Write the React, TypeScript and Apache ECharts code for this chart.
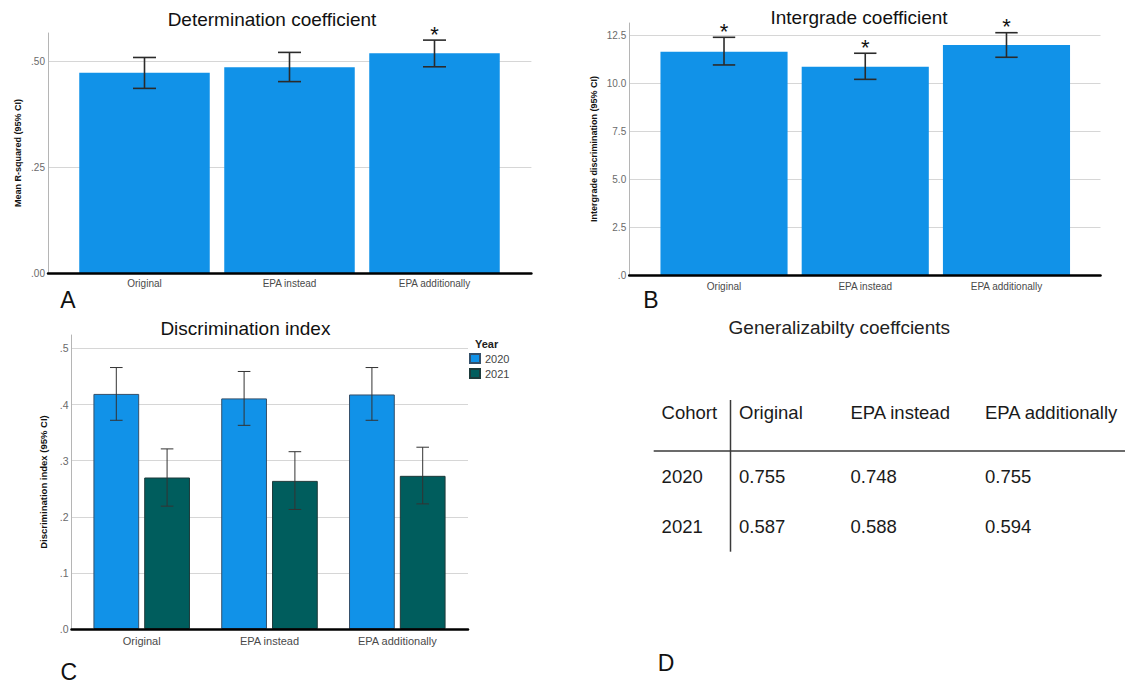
import React, { useEffect, useRef } from 'react';
import * as echarts from 'echarts';

// ---------- data ----------
const categories = ['Original', 'EPA instead', 'EPA additionally'];

const rSquaredMean = [0.473, 0.486, 0.519];
const rSquaredLow = [0.436, 0.452, 0.487];
const rSquaredHigh = [0.509, 0.521, 0.55];
const rSquaredSig = [false, false, true];

const intergradeMean = [11.63, 10.85, 11.98];
const intergradeLow = [10.94, 10.19, 11.34];
const intergradeHigh = [12.38, 11.55, 12.62];
const intergradeSig = [true, true, true];

const years = ['2020', '2021'];
const discMean2020 = [0.419, 0.411, 0.418];
const discLow2020 = [0.372, 0.363, 0.372];
const discHigh2020 = [0.466, 0.459, 0.466];
const discMean2021 = [0.27, 0.264, 0.273];
const discLow2021 = [0.219, 0.213, 0.223];
const discHigh2021 = [0.321, 0.316, 0.324];

const yTicksA = [0, 0.25, 0.5];
const yTicksB = [0, 2.5, 5, 7.5, 10, 12.5];
const yTicksC = [0, 0.1, 0.2, 0.3, 0.4, 0.5];

const tableColumns = ['Original', 'EPA instead', 'EPA additionally'];
const cohorts = ['2020', '2021'];
const gCoef2020 = [0.755, 0.748, 0.755];
const gCoef2021 = [0.587, 0.588, 0.594];

// ---------- helpers ----------
const FONT = "'Liberation Sans', Arial, Helvetica, sans-serif";

function tickFormatter(ticks: number[], digits: number) {
  return (v: number) => {
    const hit = ticks.some((t) => Math.abs(t - v) < 1e-6);
    if (!hit) return '';
    return v.toFixed(digits).replace(/^0\./, '.');
  };
}

function errRenderer(capHalf: number, lineWidth: number, color: string, offsetFrac: number, starSize: number, starGap: number) {
  return (params: any, api: any) => {
    const idx = api.value(0);
    const lo = api.value(1);
    const hi = api.value(2);
    const sig = api.value(3);
    const pLo = api.coord([idx, lo]);
    const pHi = api.coord([idx, hi]);
    const cw = api.size([1, 0])[0];
    const x = pLo[0] + offsetFrac * cw;
    const style = { stroke: color, lineWidth };
    const children: any[] = [
      { type: 'line', shape: { x1: x, y1: pHi[1], x2: x, y2: pLo[1] }, style },
      { type: 'line', shape: { x1: x - capHalf, y1: pHi[1], x2: x + capHalf, y2: pHi[1] }, style },
      { type: 'line', shape: { x1: x - capHalf, y1: pLo[1], x2: x + capHalf, y2: pLo[1] }, style },
    ];
    if (sig) {
      children.push({
        type: 'text',
        x,
        y: pHi[1] - starGap,
        style: {
          text: '*',
          fill: '#111',
          fontSize: starSize,
          fontFamily: FONT,
          align: 'center',
          verticalAlign: 'middle',
        },
      });
    }
    return { type: 'group', children };
  };
}

function frameAxes(gridIndex: number, max: number, ticks: number[], interval: number, digits: number, name: string, nameGap: number, nameSize: number, labelSize: number) {
  const yAxis = {
    type: 'value',
    gridIndex,
    min: 0,
    max,
    interval,
    axisLine: { show: true, lineStyle: { color: '#b5b5b5', width: 1 } },
    axisTick: { show: false },
    splitLine: { show: true, showMaxLine: false, lineStyle: { color: '#d6d6d6', width: 1 } },
    axisLabel: { showMaxLabel: false, formatter: tickFormatter(ticks, digits), fontSize: labelSize, color: '#6a6a6a', margin: 3, fontFamily: FONT },
    name,
    nameLocation: 'middle',
    nameGap,
    nameRotate: 90,
    nameTextStyle: { fontWeight: 'bold', fontSize: nameSize, color: '#111', fontFamily: FONT },
  };
  const xAxis = {
    type: 'value',
    gridIndex,
    min: 0,
    max: 1,
    z: 6,
    axisLine: { show: true, onZero: false, lineStyle: { color: '#000', width: 2.5 } },
    axisTick: { show: false },
    axisLabel: { show: false },
    splitLine: { show: false },
  };
  return { xAxis, yAxis };
}

function barAxes(gridIndex: number, max: number, labelSize: number, margin: number) {
  const xAxis = {
    type: 'category',
    gridIndex,
    data: categories,
    axisLine: { show: false },
    axisTick: { show: false },
    axisLabel: { interval: 0, fontSize: labelSize, color: '#4a4a4a', margin, fontFamily: FONT },
  };
  const yAxis = { type: 'value', gridIndex, min: 0, max, show: false };
  return { xAxis, yAxis };
}

function text(t: string, x: number, y: number, size: number, opts: any = {}) {
  return {
    type: 'text',
    x,
    y,
    style: {
      text: t,
      fill: opts.fill || '#111',
      fontSize: size,
      fontFamily: FONT,
      fontWeight: opts.weight || 'normal',
      align: opts.align || 'center',
      verticalAlign: 'middle',
    },
  };
}

export default function App() {
  const ref = useRef<HTMLDivElement>(null);

  useEffect(() => {
    if (!ref.current) return;
    const chart = echarts.init(ref.current, undefined, { renderer: 'svg' });

    const maxA = 0.5668;
    const maxB = 13.125;
    const maxC = 0.524;

    const fA = frameAxes(0, maxA, yTicksA, 0.25, 2, 'Mean R-squared (95% CI)', 26, 9, 10);
    const bA = barAxes(1, maxA, 10, 5);
    const fB = frameAxes(2, maxB, yTicksB, 2.5, 1, 'Intergrade discrimination (95% CI)', 31, 9, 10);
    const bB = barAxes(3, maxB, 10, 6);
    const fC = frameAxes(4, maxC, yTicksC, 0.1, 1, 'Discrimination index (95% CI)', 23.5, 9.5, 10.5);
    const bC = barAxes(5, maxC, 11, 6);

    const offC = (0.358 * 1.11) / 2;

    // table
    const colX = [739, 850.5, 985];
    const tableTexts: any[] = [text('Cohort', 661.6, 412, 18.5, { align: 'left', fill: '#1a1a1a' })];
    tableColumns.forEach((c, i) => tableTexts.push(text(c, colX[i], 412, 18.5, { align: 'left', fill: '#1a1a1a' })));
    const rows = [gCoef2020, gCoef2021];
    const rowY = [476.7, 526.7];
    cohorts.forEach((c, r) => {
      tableTexts.push(text(c, 661.6, rowY[r], 18.5, { align: 'left', fill: '#1a1a1a' }));
      rows[r].forEach((v, i) => tableTexts.push(text(v.toFixed(3), colX[i], rowY[r], 18.5, { align: 'left', fill: '#1a1a1a' })));
    });

    const option: any = {
      animation: false,
      backgroundColor: '#fff',
      textStyle: { fontFamily: FONT },
      grid: [
        { left: 48, top: 33, width: 483.4, height: 240 },
        { left: 72, top: 33, width: 435, height: 240 },
        { left: 629.2, top: 23, width: 471.3, height: 252 },
        { left: 653.4, top: 23, width: 423.7, height: 252 },
        { left: 71.5, top: 335, width: 396.5, height: 294 },
        { left: 77.8, top: 335, width: 383.4, height: 294 },
      ],
      xAxis: [fA.xAxis, bA.xAxis, fB.xAxis, bB.xAxis, fC.xAxis, bC.xAxis],
      yAxis: [fA.yAxis, bA.yAxis, fB.yAxis, bB.yAxis, fC.yAxis, bC.yAxis],
      legend: {
        data: years,
        orient: 'vertical',
        left: 469,
        top: 353,
        padding: 0,
        itemWidth: 10,
        itemHeight: 9,
        itemGap: 4,
        icon: 'rect',
        textStyle: { fontSize: 11, color: '#444', fontFamily: FONT },
      },
      series: [
        {
          name: 'R-squared',
          type: 'bar',
          xAxisIndex: 1,
          yAxisIndex: 1,
          data: rSquaredMean,
          barWidth: '90%',
          itemStyle: { color: '#1192e8' },
        },
        {
          type: 'custom',
          xAxisIndex: 1,
          yAxisIndex: 1,
          z: 4,
          encode: { x: 0, y: [1, 2] },
          data: categories.map((_, i) => [i, rSquaredLow[i], rSquaredHigh[i], rSquaredSig[i] ? 1 : 0]),
          renderItem: errRenderer(11.5, 1.6, '#2b2b2b', 0, 22, 6),
        },
        {
          name: 'Intergrade',
          type: 'bar',
          xAxisIndex: 3,
          yAxisIndex: 3,
          data: intergradeMean,
          barWidth: '90%',
          itemStyle: { color: '#1192e8' },
        },
        {
          type: 'custom',
          xAxisIndex: 3,
          yAxisIndex: 3,
          z: 4,
          encode: { x: 0, y: [1, 2] },
          data: categories.map((_, i) => [i, intergradeLow[i], intergradeHigh[i], intergradeSig[i] ? 1 : 0]),
          renderItem: errRenderer(11.2, 1.6, '#2b2b2b', 0, 22, 6),
        },
        {
          name: years[0],
          type: 'bar',
          xAxisIndex: 5,
          yAxisIndex: 5,
          data: discMean2020,
          barWidth: '35.8%',
          barGap: '11%',
          itemStyle: { color: '#1192e8', borderColor: '#35506a', borderWidth: 1 },
        },
        {
          name: years[1],
          type: 'bar',
          xAxisIndex: 5,
          yAxisIndex: 5,
          data: discMean2021,
          barWidth: '35.8%',
          barGap: '11%',
          itemStyle: { color: '#005d5d', borderColor: '#1d3a3a', borderWidth: 1 },
        },
        {
          type: 'custom',
          xAxisIndex: 5,
          yAxisIndex: 5,
          z: 4,
          encode: { x: 0, y: [1, 2] },
          data: categories.map((_, i) => [i, discLow2020[i], discHigh2020[i], 0]),
          renderItem: errRenderer(6.3, 1, '#333', -offC, 20, 6),
        },
        {
          type: 'custom',
          xAxisIndex: 5,
          yAxisIndex: 5,
          z: 4,
          encode: { x: 0, y: [1, 2] },
          data: categories.map((_, i) => [i, discLow2021[i], discHigh2021[i], 0]),
          renderItem: errRenderer(6.3, 1, '#333', offC, 20, 6),
        },
      ],
      graphic: [
        text('Determination coefficient', 272, 19.5, 19),
        text('Intergrade coefficient', 859, 17, 19),
        text('Discrimination index', 245.4, 328, 19),
        text('Generalizabilty coeffcients', 839.3, 327, 19, { fill: '#222' }),
        text('Year', 475, 344, 11, { align: 'left', weight: 'bold', fill: '#222' }),
        text('A', 68, 300, 23),
        text('B', 651, 300, 23),
        text('C', 68.7, 671.5, 23),
        text('D', 666, 663, 23),
        {
          type: 'line',
          shape: { x1: 653.7, y1: 451, x2: 1125, y2: 451 },
          style: { stroke: '#3a3a3a', lineWidth: 1.5 },
        },
        {
          type: 'line',
          shape: { x1: 730.5, y1: 400, x2: 730.5, y2: 551.7 },
          style: { stroke: '#3a3a3a', lineWidth: 1.5 },
        },
        ...tableTexts,
      ],
    };

    chart.setOption(option);
    return () => chart.dispose();
  }, []);

  return (
    <div
      ref={ref}
      style={{ position: 'absolute', left: 0, top: 0, width: 1125, height: 684, background: '#fff' }}
    />
  );
}
